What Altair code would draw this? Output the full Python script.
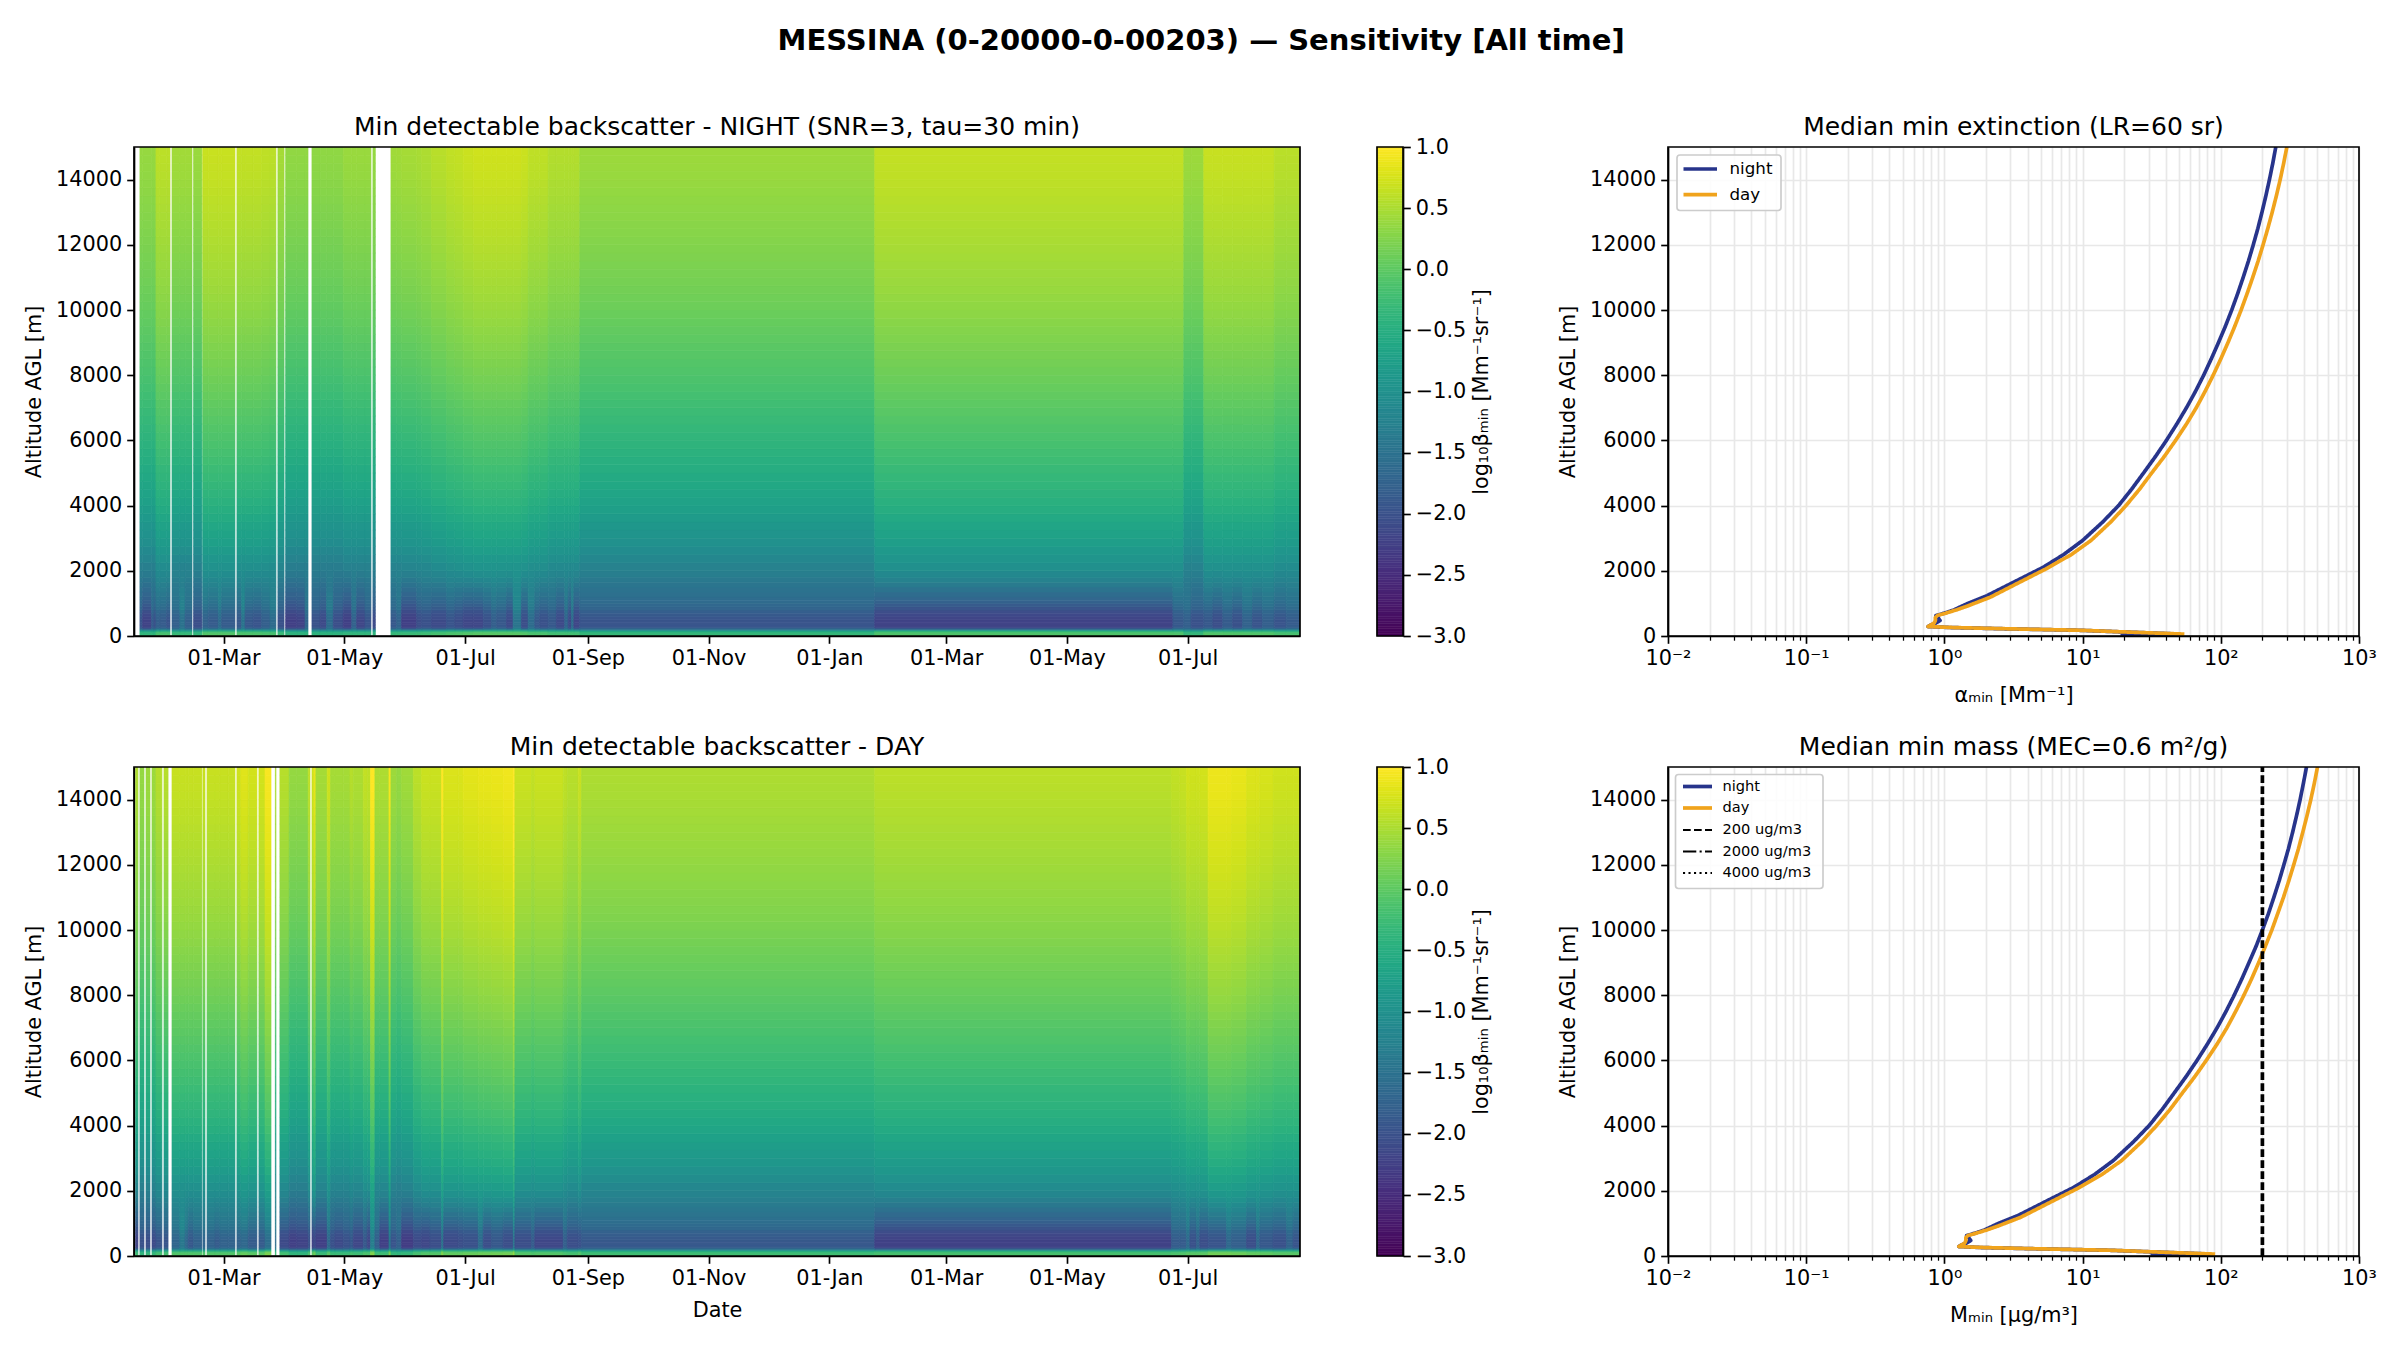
import altair as alt
import pandas as pd
import numpy as np

FONT = "DejaVu Sans"
T0 = pd.Timestamp("2024-01-15 18:00")
SPAN_DAYS = 589

# altitude rows of the two heat maps [m] (edges), value of a typical column, and share of the low-level streak
Z_EDGES = [0, 60, 120, 150, 180, 210, 260, 340, 420, 500, 600, 700, 800, 900, 1000, 1100, 1200, 1350, 1500, 1650, 1800, 2000,
           2250, 2500, 2750, 3000, 3250, 3500, 3750, 4000, 4250, 4500, 4750, 5000, 5250, 5500, 5750, 6000, 6250, 6500, 6750,
           7000, 7250, 7500, 7750, 8000, 8250, 8500, 8750, 9000, 9250, 9500, 9750, 10000, 10250, 10500, 10750, 11000, 11250,
           11500, 11750, 12000, 12250, 12500, 12750, 13000, 13250, 13500, 13750, 14000, 14250, 14500, 14750, 15000]
BASE = [-0.1, -0.15, -0.3, -0.6, -1.1, -1.8, -2.08, -2.1, -2.1, -2.08, -2.03, -1.96, -1.87, -1.78, -1.7, -1.63, -1.55, -1.45,
        -1.35, -1.25, -1.15,
        -1.05, -0.96, -0.875, -0.795, -0.737, -0.68, -0.617, -0.553, -0.5, -0.45, -0.403, -0.366, -0.325, -0.28, -0.24, -0.204,
        -0.169, -0.133, -0.097, -0.062, -0.03, 0.005, 0.038, 0.07, 0.1, 0.127, 0.156, 0.18, 0.208, 0.235, 0.262, 0.288, 0.312,
        0.336, 0.356, 0.374, 0.392, 0.412, 0.429, 0.447, 0.463, 0.48, 0.496, 0.512, 0.526, 0.542, 0.558, 0.574, 0.587, 0.597,
        0.606, 0.615]
W_LOW = [0, 0, 0, 0, 0.3, 0.8, 1, 1, 1, 1, 1, 1, 1, 0.9, 0.8, 0.7, 0.6, 0.45, 0.3, 0.2, 0.1] + [0] * 52

# night columns: days since start, column level, low-level streak
N_START = [3.0, 4.4, 8.9, 10.1, 11.1, 13.1, 16.5, 19.2, 23.2, 25.8, 30.1, 34.7, 37.5, 42.6, 44.3, 52, 54.4, 56.1, 60.3, 64.5, 68.7,
           72.7, 76.6, 82.2, 86.4, 89.9, 94, 97.3, 100.7, 105.7, 110, 112.5, 116.7, 120.7, 129.8, 132.7, 135.2, 142.8, 145.3,
           150.3, 157.9, 162.1, 166.3, 171.4, 176.4, 180.6, 183.2, 188.2, 191.5, 195.7, 199.1, 202.5, 205, 209.2, 213.4, 217.6,
           219.3, 221, 222.2, 225.2, 374.2, 524.8, 530.3, 534, 540.4, 545, 550, 555, 560, 565, 570, 576, 582]
N_END = [4.4, 8.9, 10.1, 11.1, 13.1, 16.5, 18.2, 23.2, 25.8, 29.3, 34.3, 37.5, 42.6, 44.3, 51, 54.4, 56.1, 60.3, 64.5, 68.7, 71.7,
         75.8, 82.2, 86.4, 87.9, 94, 97.3, 100.7, 105.7, 110, 112.5, 116.7, 119.7, 121.9, 132.7, 135.2, 142.8, 145.3, 150.3,
         157.9, 162.1, 166.3, 171.4, 176.4, 180.6, 183.2, 188.2, 191.5, 195.7, 199.1, 202.5, 205, 209.2, 213.4, 217.6, 219.3,
         221, 222.2, 225.2, 374.2, 524.8, 530.3, 534, 540.4, 545, 550, 555, 560, 565, 570, 576, 582, 589]
N_OFF = [-.24, -.24, -.24, -.24, -.02, -.02, -.02, -.17, -.17, -.17, -.22, .06, .06, .06, .06, .02, .02, .02, .02, 0, -.02,
         -.15, -.27, -.27, -.27, -.28, -.28, -.28, -.28, -.22, -.22, -.22, -.22, -.25, -.18, -.17, -.15, -.13, -.1,
         -.04, .01, .03, .07, .1, .1, .1, .1, .1, .1, .07, 0, 0, 0, -.07, -.07, -.07,
         -.07, -.07, -.07, -.2, .03, .03, -.2, -.2, .05, .05, .05, .05, .05, .05, .05, -.03, -.03]
N_LOW = [.15, -.1, .25, .1, .3, .25, .15, .3, .6, .3, .05, .35, .25, .5, .25, .2, .65, .2, .15, .3, .5,
         .1, -.15, -.1, .4, .1, 0, .5, .05, -.15, .35, -.05, .15, 0, .2, .35, -.15, .05, .1,
         0, .15, .05, -.05, -.05, .1, .3, .2, 0, .65, .05, .5, .2, .1, .2, 0, .4,
         0, .5, -.05, .15, -.1, .2, .3, .1, .2, .05, .25, .1, .35, .15, .3, .15, .25]

# day columns
D_START = [0.84, 3.0, 6.06, 9.09, 11.1, 15.15, 19.2, 23.2, 25.8, 27.4, 30, 34.85, 36.9, 40.9, 43.4, 47.6, 52, 54, 57.7, 63.1, 66.2,
           71.4, 73.7, 78.4, 82.2, 88, 89.9, 90.9, 91.9, 97.6, 99.3, 101.5, 105.7, 109.1, 110.8, 115.8, 117.8, 119.5, 121.7,
           124.2, 128.8, 129.8, 132.7, 135.2, 141.1, 145.3, 149.5, 155.4, 156.4, 163.8, 166.3, 173.9, 176.4, 180.6, 186.5,
           191.6, 192.4, 200.8, 202.5, 216.8, 218.9, 224.4, 226.1, 374.2, 524.1, 528.3, 531.7, 533.4, 536.7, 538.4, 542.6,
           551.9, 554.4, 562, 567, 568.7, 575.4, 582.2, 585.5]
D_END = [2.0, 5.05, 8.08, 11.1, 14.1, 17.2, 23.2, 25.8, 27.4, 30, 34.3, 35.86, 40.9, 43.4, 47.6, 51, 54, 57.7, 62.1, 66.2, 69.2,
         71.7, 78.4, 82.2, 88, 88.9, 90.9, 91.9, 97.6, 99.3, 101.5, 105.7, 109.1, 110.8, 115.8, 117.8, 119.5, 121.7, 124.2,
         128.8, 129.8, 132.7, 135.2, 141.1, 145.3, 149.5, 155.4, 156.4, 163.8, 166.3, 173.9, 176.4, 180.6, 186.5, 191.6,
         192.4, 200.8, 202.5, 216.8, 218.9, 224.4, 226.1, 374.2, 524.1, 528.3, 531.7, 533.4, 536.7, 538.4, 542.6, 551.9,
         554.4, 562, 567, 568.7, 575.4, 582.2, 585.5, 589]
D_OFF = [-.1, -.25, -.2, -.2, -.05, -.05, .05, .05, .05, .05, .05, .05, .05, .05, .05, .05, .1, .2, .12, .12, .35,
         -.1, -.05, -.25, -.25, 0, .1, .25, -.15, .1, -.15, -.15, -.15, -.05, -.1, .02, 0, .4, -.1,
         -.1, .35, -.2, -.25, -.18, -.02, .07, .07, .4, .17, .17, .22, .25, .25, .27, .3,
         .5, .07, .02, .07, 0, -.04, .06, -.1, -.02, .02, .05, .12, .1, .1, .12, .28,
         .28, .25, .18, .18, .15, .1, .1, .1]
D_LOW = [-.1, .1, .05, 0, .15, .15, .4, .7, .45, .2, .35, .4, .35, .25, .35, .35, .35, .45, .25, .25, .55,
         .5, 0, -.15, -.1, .1, -.1, 0, -.15, .45, .1, 0, .1, .2, -.05, .2, -.05, .8, .3,
         -.15, .7, .15, .3, -.2, 0, -.05, .05, .6, 0, .05, .1, .5, .05, .2, .05,
         .7, .05, .25, -.05, .3, .05, .1, .2, -.12, .25, .25, .5, .1, .35, .05, .15,
         .45, .3, .05, .45, .2, .1, .35, .15]

# profile panels
Z_N = [15, 60, 120, 175, 225, 260, 290, 340, 390, 475, 560, 630, 700, 800, 990, 1240, 1650, 2110, 2500, 2930, 3500, 4000, 4500, 5000,
       5500, 6000, 6500, 7000, 7500, 8000, 8500, 9000, 9500, 10000, 10500, 11000, 11500, 12000, 12500, 13000, 13500, 14000, 14500, 15000]
EXT_N = [18.8, 50, 21, 9.6, 2.5, 1.1, .76, .8, .86, .93, .9, .87, 1.0, 1.17, 1.46, 2.04, 3.17, 5.2, 7.3, 10, 14, 18.2, 22.6, 27.6,
         33.6, 40.4, 48, 56.4, 65.5, 75.2, 85.3, 96.2, 107.9, 120, 132.4, 145.2, 158.5, 171.8, 185.4, 198.6, 211.8, 224.9, 237.7, 250]
MASS_N = [31, 83, 35, 16, 4.2, 1.83, 1.27, 1.33, 1.43, 1.55, 1.5, 1.45, 1.67, 1.95, 2.43, 3.4, 5.28, 8.67, 12.2, 16.7, 23.3, 30.3, 37.7, 46,
          56, 67.3, 80, 94, 109, 125, 142, 160, 180, 200, 221, 242, 264, 286, 309, 331, 353, 375, 396, 417]
Z_D = [58, 120, 175, 225, 260, 290, 340, 390, 470, 565, 630, 700, 800, 915, 1190, 1610, 2070, 2500, 2930, 3500, 4000, 4500, 5000,
       5500, 6000, 6500, 7000, 7500, 8000, 8500, 9000, 9500, 10000, 10500, 11000, 11500, 12000, 12500, 13000, 13500, 14000, 14500, 15000]
EXT_D = [54.5, 21.5, 9.8, 2.6, 1.15, .76, .8, .84, .86, .86, .89, 1.02, 1.22, 1.46, 2.15, 3.36, 5.5, 8.3, 11.5, 16, 20.6, 25.8, 31.6,
         38.9, 47.1, 56.4, 66.4, 76.9, 88.1, 100, 112.7, 126.2, 140.3, 154.9, 170.2, 186.2, 202.3, 218.8, 235.5, 252.3, 269, 285, 300.6]
MASS_D = [91, 36, 16.3, 4.3, 1.92, 1.27, 1.33, 1.4, 1.43, 1.43, 1.48, 1.7, 2.03, 2.43, 3.58, 5.6, 9.17, 13.8, 19.2, 26.7, 34.3, 43, 52.7,
          64.8, 78.5, 94, 110.7, 128, 147, 167, 188, 210, 234, 258, 284, 310, 337, 365, 392, 420, 448, 475, 501]
THRESHOLDS = [200, 2000, 4000]
THRESH_NAMES = ["200 ug/m3", "2000 ug/m3", "4000 ug/m3"]
THRESH_DASH = [[7.7, 3.3], [13.3, 3.3, 2.1, 3.3], [2.1, 3.4]]

NIGHT = "#27348b"
DAY = "#f0a31c"
W_H, W_CB, W_GAP, W_P, H = 1166, 26, 111, 691, 489
T_MONTHS = ["2024-03-01", "2024-05-01", "2024-07-01", "2024-09-01", "2024-11-01", "2025-01-01", "2025-03-01", "2025-05-01", "2025-07-01"]
Y_TICKS = list(range(0, 15000, 2000))
X_MINOR = [m * 10.0 ** e for e in range(-2, 3) for m in range(1, 10)] + [1000.0]
VIRIDIS = alt.Scale(scheme="viridis", domain=[-3, 1], clamp=True)
STAMP = lambda d: (T0 + pd.Timedelta(days=float(d))).strftime("%Y-%m-%dT%H:%M")
ONE = pd.DataFrame({"k": [0]})


def frame(w):
    return alt.Chart(ONE).mark_rect(fill="transparent", stroke="black", strokeWidth=1.67, clip=False).encode(
        x=alt.value(0), x2=alt.value(w), y=alt.value(0), y2=alt.value(H))


def heat(starts, ends, offs, lows, title, xtitle):
    rows = []
    for s, e, o, l in zip(starts, ends, offs, lows, strict=True):
        a, b = STAMP(s), STAMP(e)
        for j, (v, w) in enumerate(zip(BASE, W_LOW, strict=True)):
            rows.append({"a": a, "b": b, "c": Z_EDGES[j], "d": Z_EDGES[j + 1], "v": round(v + (1 - w) * o + w * l, 3)})
    df = pd.DataFrame(rows)
    base = alt.Chart(df).mark_rect(strokeWidth=0.7, clip=True).encode(
        x=alt.X("a:T", scale=alt.Scale(domain=[STAMP(0), STAMP(SPAN_DAYS)]),
                axis=alt.Axis(values=[m + "T00:00" for m in T_MONTHS], format="%d-%b", title=xtitle, grid=False,
                              labelOverlap=False, titlePadding=12)),
        x2="b:T",
        y=alt.Y("c:Q", scale=alt.Scale(domain=[0, 15000], nice=False),
                axis=alt.Axis(values=Y_TICKS, format="d", title="Altitude AGL [m]", titlePadding=11, grid=False, labelOverlap=False)),
        y2="d:Q",
        color=alt.Color("v:Q", scale=VIRIDIS, legend=None),
        stroke=alt.Stroke("v:Q", scale=VIRIDIS, legend=None),
    )
    return alt.layer(base, frame(W_H)).properties(width=W_H, height=H, title=title)


def colorbar():
    lv = np.arange(-3, 1, 0.02)
    df = pd.DataFrame({"a": lv, "b": lv + 0.02, "v": lv + 0.01})
    bar = alt.Chart(df).mark_rect(strokeWidth=0.5).encode(
        x=alt.value(0), x2=alt.value(W_CB),
        y=alt.Y("a:Q", scale=alt.Scale(domain=[-3, 1], nice=False),
                axis=alt.Axis(orient="right", values=[-3, -2.5, -2, -1.5, -1, -0.5, 0, 0.5, 1], format=".1f",
                              title="log₁₀βₘᵢₙ [Mm⁻¹sr⁻¹]", titleAngle=270, titleBaseline="top", titlePadding=6,
                              grid=False, labelOverlap=False)),
        y2="b:Q",
        color=alt.Color("v:Q", scale=VIRIDIS, legend=None),
        stroke=alt.Stroke("v:Q", scale=VIRIDIS, legend=None),
    )
    return alt.layer(bar, frame(W_CB)).properties(width=W_CB, height=H)


def spacer():
    return alt.Chart(ONE).mark_rect(opacity=0).encode(x=alt.value(0)).properties(width=W_GAP, height=H)


def legend_layers(entries, box, sym, text_x, rows_y, size):
    x0, x1, y0, y1 = box
    out = [alt.Chart(ONE).mark_rect(fill="white", fillOpacity=0.85, stroke="#cccccc", strokeWidth=1.67, cornerRadius=3).encode(
        x=alt.value(x0), x2=alt.value(x1), y=alt.value(y0), y2=alt.value(y1))]
    for (name, color, width, dash), y in zip(entries, rows_y, strict=True):
        style = {"strokeDash": dash} if dash else {}
        out.append(alt.Chart(ONE).mark_rule(color=color, strokeWidth=width, **style).encode(
            x=alt.value(sym[0]), x2=alt.value(sym[1]), y=alt.value(y)))
        out.append(alt.Chart(ONE).mark_text(align="left", baseline="middle", font=FONT, fontSize=size, color="black").encode(
            x=alt.value(text_x), y=alt.value(y), text=alt.value(name)))
    return out


def profile(zn, xn, zd, xd, title, xtitle, extra, leg):
    rows = []
    for s, zz, xx in (("night", zn, xn), ("day", zd, xd)):
        for i, (z, x) in enumerate(zip(zz, xx, strict=True)):
            rows.append({"s": s, "i": i, "z": z, "x": x})
    names = ["night", "day"]
    colors, dashes, widths = [NIGHT, DAY], [[1, 0], [1, 0]], [3.7, 3.7]
    entries = [("night", NIGHT, 3.7, None), ("day", DAY, 3.7, None)]
    for (val, name), dash in zip(extra, THRESH_DASH):
        names.append(name)
        colors.append("black")
        dashes.append(dash)
        widths.append(2.08)
        entries.append((name, "black", 2.08, dash))
        rows.append({"s": name, "i": 0, "z": 0, "x": val})
        rows.append({"s": name, "i": 1, "z": 15000, "x": val})
    df = pd.DataFrame(rows)
    test = "abs(log(datum.value)/LN10-round(log(datum.value)/LN10))<0.001"
    xaxis = alt.Axis(values=X_MINOR, title=xtitle, grid=True, labelOverlap=False, labelBound=False, labelFlush=False,
                     labelExpr="abs(log(datum.value)/LN10-round(log(datum.value)/LN10))<0.001 ? "
                               "['10⁻²','10⁻¹','10⁰','10¹','10²','10³'][round(log(datum.value)/LN10)+2] : ''",
                     tickSize=alt.ConditionalAxisNumber(condition={"test": test, "value": 7.3}, value=4.2),
                     tickWidth=alt.ConditionalAxisNumber(condition={"test": test, "value": 1.67}, value=1.25),
                     titlePadding=17)
    sort = names
    line = alt.Chart(df).mark_line(clip=True, strokeJoin="round", strokeCap="butt").encode(
        x=alt.X("x:Q", scale=alt.Scale(type="log", domain=[0.01, 1000], nice=False), axis=xaxis),
        y=alt.Y("z:Q", scale=alt.Scale(domain=[0, 15000], nice=False),
                axis=alt.Axis(values=Y_TICKS, format="d", title="Altitude AGL [m]", titlePadding=11, grid=True, labelOverlap=False)),
        order="i:Q",
        color=alt.Color("s:N", sort=sort, scale=alt.Scale(domain=names, range=colors), legend=None),
        strokeDash=alt.StrokeDash("s:N", sort=sort, scale=alt.Scale(domain=names, range=dashes), legend=None),
        strokeWidth=alt.StrokeWidth("s:N", sort=sort, scale=alt.Scale(domain=names, range=widths), legend=None),
        detail="s:N",
    )
    return alt.layer(line, *legend_layers(entries, **leg), frame(W_P)).properties(width=W_P, height=H, title=title)


p1 = heat(N_START, N_END, N_OFF, N_LOW, "Min detectable backscatter - NIGHT (SNR=3, tau=30 min)", None)
p2 = profile(Z_N, EXT_N, Z_D, EXT_D, "Median min extinction (LR=60 sr)", "αₘᵢₙ [Mm⁻¹]", [],
             dict(box=(9, 113, 8, 63.5), sym=(15.5, 49), text_x=61.5, rows_y=[22, 47.7], size=16.7))
p3 = heat(D_START, D_END, D_OFF, D_LOW, "Min detectable backscatter - DAY", "Date")
p4 = profile(Z_N, MASS_N, Z_D, MASS_D, "Median min mass (MEC=0.6 m²/g)", "Mₘᵢₙ [µg/m³]",
             list(zip(THRESHOLDS, THRESH_NAMES)),
             dict(box=(7.5, 155, 7.5, 121.5), sym=(15, 44), text_x=54.5, rows_y=[19.5, 41, 63, 84.5, 106], size=14.6))

chart = alt.concat(p1, colorbar(), spacer(), p2, p3, colorbar(), spacer(), p4, columns=4,
                   spacing={"row": 131, "column": 77}, bounds="flush").resolve_scale(
    color="independent", stroke="independent", strokeDash="independent", strokeWidth="independent",
    x="independent", y="independent"
).properties(
    title=alt.TitleParams("MESSINA (0-20000-0-00203) — Sensitivity [All time]", fontSize=29, fontWeight="bold",
                          font=FONT, color="black", anchor="start", frame="bounds", dx=754, offset=58.6),
    padding={"left": 15, "top": 19, "right": 5, "bottom": 5},
    background="white",
).configure_view(stroke=None).configure_axis(
    labelFont=FONT, titleFont=FONT, labelFontSize=20.8, titleFontSize=20.8, labelColor="black", titleColor="black",
    titleFontWeight="normal", domainColor="black", domainWidth=1.67, tickColor="black", tickWidth=1.67, tickSize=7.3,
    labelPadding=5, gridColor="#e8e8e8", gridWidth=1.67, gridOpacity=1, zindex=1,
).configure_title(font=FONT, fontSize=25, fontWeight="normal", color="black", anchor="middle", frame="group", offset=6.5)

chart.save("out.html", embed_options={"renderer": "svg", "actions": False})
